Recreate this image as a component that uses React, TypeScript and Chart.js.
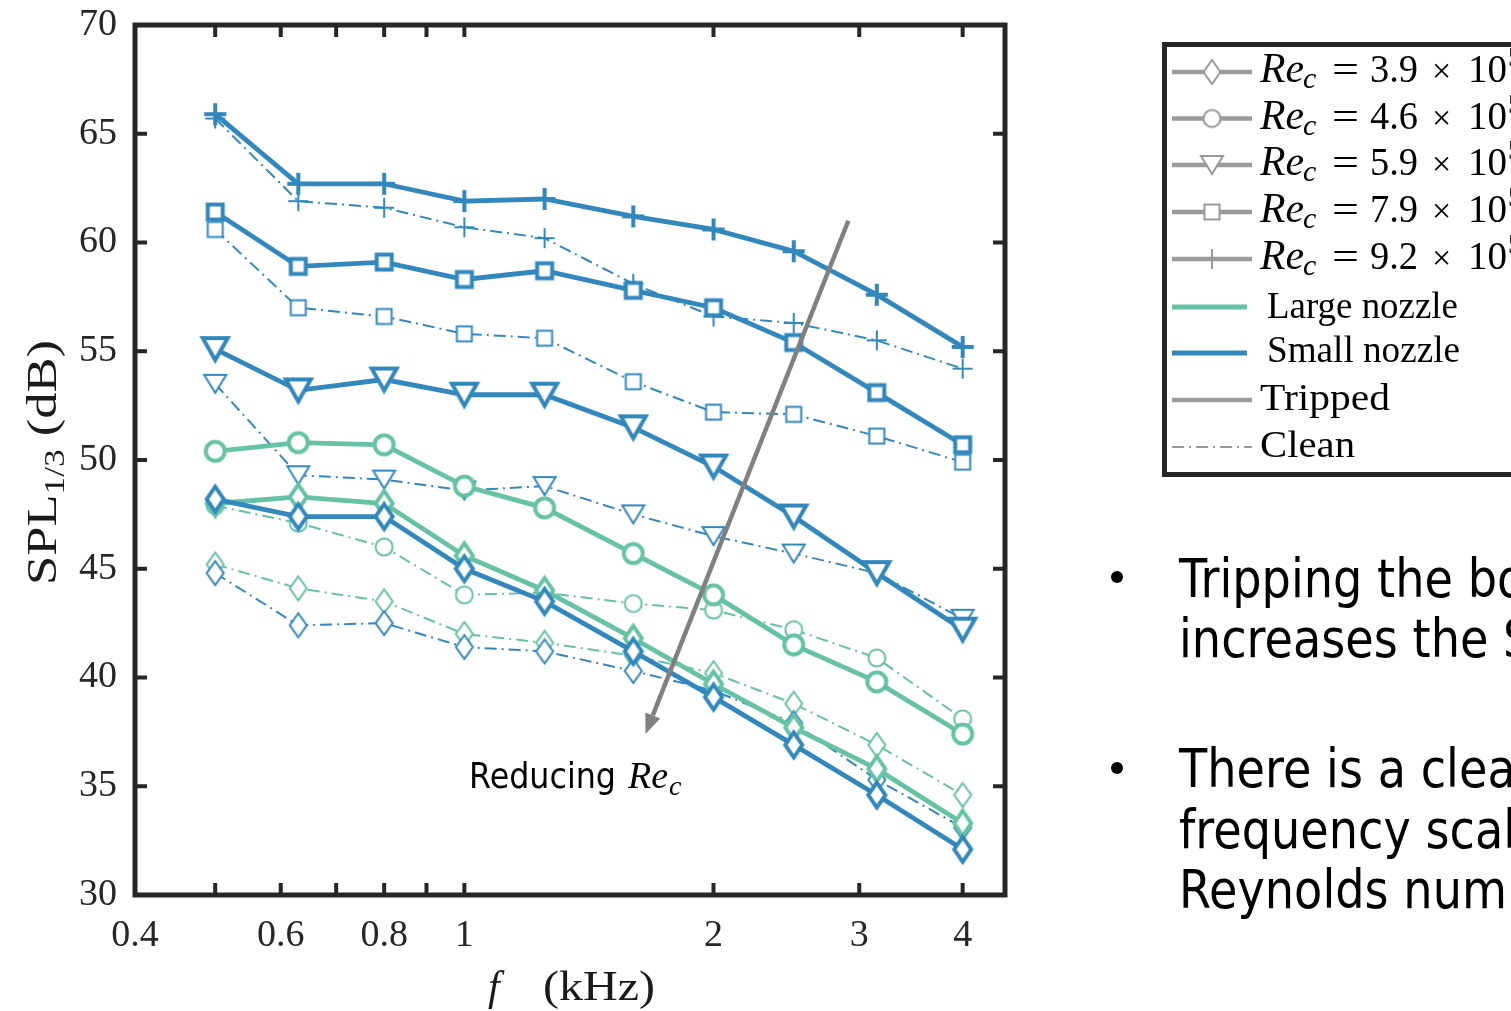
import React, { useEffect, useRef } from "react";
import { Chart, registerables } from "chart.js";

Chart.register(...registerables);

// ---------------- data ----------------
const FREQ_KHZ = [0.5, 0.63, 0.8, 1, 1.25, 1.6, 2, 2.5, 3.15, 4];

const SMALL_TRIPPED_RE92 = [65.9, 62.7, 62.7, 61.9, 62.0, 61.2, 60.6, 59.6, 57.6, 55.2];
const SMALL_TRIPPED_RE79 = [61.4, 58.9, 59.1, 58.3, 58.7, 57.8, 57.0, 55.4, 53.1, 50.7];
const SMALL_TRIPPED_RE59 = [55.1, 53.2, 53.7, 53.0, 53.0, 51.5, 49.7, 47.4, 44.8, 42.2];
const SMALL_TRIPPED_RE39 = [48.2, 47.4, 47.4, 45.0, 43.5, 41.2, 39.1, 36.9, 34.6, 32.1];

const SMALL_CLEAN_RE92 = [65.7, 61.9, 61.6, 60.7, 60.2, 58.1, 56.6, 56.3, 55.5, 54.2];
const SMALL_CLEAN_RE79 = [60.6, 57.0, 56.6, 55.8, 55.6, 53.6, 52.2, 52.1, 51.1, 49.9];
const SMALL_CLEAN_RE59 = [53.5, 49.3, 49.1, 48.6, 48.8, 47.5, 46.5, 45.7, 44.8, 42.7];
const SMALL_CLEAN_RE39 = [44.8, 42.4, 42.5, 41.4, 41.2, 40.3, 39.4, 37.9, 35.3, 33.1];

const LARGE_TRIPPED_RE46 = [50.4, 50.8, 50.7, 48.8, 47.8, 45.7, 43.8, 41.5, 39.8, 37.4];
const LARGE_TRIPPED_RE39 = [48.0, 48.3, 48.0, 45.6, 44.0, 41.8, 39.7, 37.7, 35.8, 33.3];

const LARGE_CLEAN_RE46 = [47.9, 47.1, 46.0, 43.8, 43.9, 43.4, 43.1, 42.2, 40.9, 38.1];
const LARGE_CLEAN_RE39 = [45.2, 44.1, 43.5, 42.0, 41.6, 41.0, 40.2, 38.8, 36.9, 34.6];

const X_TICK_LABELS = [0.4, 0.6, 0.8, 1, 2, 3, 4];
const X_TICK_MARKS = [0.5, 0.6, 0.7, 0.8, 0.9, 1, 2, 3, 4];
const Y_TICKS = [30, 35, 40, 45, 50, 55, 60, 65, 70];

const LEGEND_RE = ["3.9", "4.6", "5.9", "7.9", "9.2"];
const LEGEND_MARKERS = ["diamond", "circle", "tri", "square", "plus"];

const BULLET_1 = ["Tripping the boundary layer", "increases the SPL"];
const BULLET_2 = ["There is a clear", "frequency scaling with", "Reynolds number"];

// arrow annotation in data coordinates (kHz, dB)
const ARROW_FROM = { f: 2.91, spl: 61.0 };
const ARROW_TO = { f: 1.655, spl: 37.4 };

// ---------------- styles ----------------
const BLUE = "#3288bd";
const GREEN = "#66c2a5";
const GRAY = "#9a9a9a";
const AXIS = "#262626";
const SERIF = "'Liberation Serif', 'Times New Roman', serif";
const SANS = "'DejaVu Sans', Verdana, sans-serif";

function makeMarker(kind: string, color: string, thick: boolean): HTMLCanvasElement {
  const S = 40;
  const c = document.createElement("canvas");
  c.width = S;
  c.height = S;
  const g = c.getContext("2d")!;
  g.translate(S / 2, S / 2);
  g.lineWidth = thick ? 4 : 2;
  g.strokeStyle = color;
  g.fillStyle = "#ffffff";
  g.lineJoin = "miter";
  g.beginPath();
  if (kind === "diamond") {
    const a = 8.5, b = thick ? 12.5 : 12;
    g.moveTo(0, -b); g.lineTo(a, 0); g.lineTo(0, b); g.lineTo(-a, 0); g.closePath();
    g.fill(); g.stroke();
  } else if (kind === "circle") {
    g.arc(0, 0, thick ? 9.5 : 8.5, 0, Math.PI * 2);
    g.fill(); g.stroke();
  } else if (kind === "tri") {
    const a = thick ? 12.5 : 11, h = thick ? 11 : 9;
    g.moveTo(-a, -h); g.lineTo(a, -h); g.lineTo(0, h); g.closePath();
    g.fill(); g.stroke();
  } else if (kind === "square") {
    const s = 7.5;
    g.rect(-s, -s, 2 * s, 2 * s);
    g.fill(); g.stroke();
  } else if (kind === "plus") {
    const r = thick ? 11 : 10;
    g.moveTo(-r, 0); g.lineTo(r, 0); g.moveTo(0, -r); g.lineTo(0, r);
    g.stroke();
  }
  return c;
}

function drawFit(ctx: CanvasRenderingContext2D, text: string, font: string, x: number, y: number, width?: number, sx?: number) {
  ctx.font = font;
  const w = ctx.measureText(text).width;
  const s = width ? width / w : sx ?? 1;
  ctx.save();
  ctx.translate(x, y);
  ctx.scale(s, 1);
  ctx.fillText(text, 0, 0);
  ctx.restore();
}

const decorPlugin = {
  id: "decor",
  afterDraw(chart: any) {
    const ctx: CanvasRenderingContext2D = chart.ctx;
    const { left, right, top, bottom } = chart.chartArea;
    const xs = chart.scales.x;
    const ys = chart.scales.y;
    ctx.save();
    ctx.textAlign = "left";
    ctx.textBaseline = "alphabetic";

    // arrow
    const ax1 = xs.getPixelForValue(ARROW_FROM.f), ay1 = ys.getPixelForValue(ARROW_FROM.spl);
    const ax2 = xs.getPixelForValue(ARROW_TO.f), ay2 = ys.getPixelForValue(ARROW_TO.spl);
    const ang = Math.atan2(ay2 - ay1, ax2 - ax1);
    const hl = 20, hw = 8;
    const bx = ax2 - hl * Math.cos(ang), by = ay2 - hl * Math.sin(ang);
    ctx.strokeStyle = "#808080";
    ctx.fillStyle = "#808080";
    ctx.lineWidth = 4.5;
    ctx.beginPath(); ctx.moveTo(ax1, ay1); ctx.lineTo(bx, by); ctx.stroke();
    ctx.beginPath();
    ctx.moveTo(ax2, ay2);
    ctx.lineTo(bx + hw * Math.sin(ang), by - hw * Math.cos(ang));
    ctx.lineTo(bx - hw * Math.sin(ang), by + hw * Math.cos(ang));
    ctx.closePath(); ctx.fill();

    // "Reducing Re_c"
    ctx.fillStyle = "#000";
    drawFit(ctx, "Reducing", `35px ${SANS}`, 469, 788, 147);
    drawFit(ctx, "Re", `italic 38px ${SERIF}`, 628, 788, 40);
    drawFit(ctx, "c", `italic 28px ${SERIF}`, 669, 795);

    // frame + inward ticks
    ctx.strokeStyle = AXIS;
    ctx.lineWidth = 5;
    ctx.strokeRect(left, top, right - left, bottom - top);
    ctx.lineWidth = 4;
    ctx.beginPath();
    for (const v of Y_TICKS) {
      const py = ys.getPixelForValue(v);
      ctx.moveTo(left, py); ctx.lineTo(left + 12, py);
      ctx.moveTo(right, py); ctx.lineTo(right - 12, py);
    }
    for (const v of X_TICK_MARKS) {
      const px = xs.getPixelForValue(v);
      ctx.moveTo(px, bottom); ctx.lineTo(px, bottom - 12);
      ctx.moveTo(px, top); ctx.lineTo(px, top + 12);
    }
    ctx.stroke();

    // axis titles
    ctx.fillStyle = "#1a1a1a";
    drawFit(ctx, "f", `italic 42px ${SERIF}`, 488, 1000);
    drawFit(ctx, "(kHz)", `42px ${SERIF}`, 543, 1000, 112);
    ctx.save();
    ctx.translate(56, 585);
    ctx.rotate(-Math.PI / 2);
    const runs = [
      { t: "SPL", f: `43px ${SERIF}`, dy: 0 },
      { t: "1/3", f: `29px ${SERIF}`, dy: 8 },
      { t: " (dB)", f: `43px ${SERIF}`, dy: 0 },
    ];
    let tot = 0;
    for (const r of runs) { ctx.font = r.f; tot += ctx.measureText(r.t).width; }
    const sc = 245 / tot;
    ctx.scale(sc, 1);
    let cx = 0;
    for (const r of runs) { ctx.font = r.f; ctx.fillText(r.t, cx, r.dy); cx += ctx.measureText(r.t).width; }
    ctx.restore();

    // legend box
    ctx.fillStyle = "#ffffff";
    ctx.fillRect(1164.5, 44.5, 400, 430);
    ctx.strokeStyle = AXIS;
    ctx.lineWidth = 5;
    ctx.strokeRect(1164.5, 44.5, 400, 430);

    const rowY = [72, 118.5, 165, 212, 259];
    for (let i = 0; i < LEGEND_RE.length; i++) {
      const y = rowY[i];
      ctx.strokeStyle = GRAY; ctx.lineWidth = 4.5; ctx.setLineDash([]);
      ctx.beginPath(); ctx.moveTo(1172, y); ctx.lineTo(1252, y); ctx.stroke();
      const m = makeMarker(LEGEND_MARKERS[i], GRAY, false);
      ctx.drawImage(m, 1212 - 20, y - 20);
      ctx.fillStyle = "#000";
      const b = y + 10;
      drawFit(ctx, "Re", `italic 42px ${SERIF}`, 1260, b, 44);
      drawFit(ctx, "c", `italic 30px ${SERIF}`, 1303, b + 6);
      drawFit(ctx, "=", `38px ${SERIF}`, 1332, b, 27);
      drawFit(ctx, LEGEND_RE[i], `39px ${SERIF}`, 1370, b, 48);
      drawFit(ctx, "×", `34px ${SERIF}`, 1432, b);
      drawFit(ctx, "10", `39px ${SERIF}`, 1468, b, 39);
      drawFit(ctx, "5", `27px ${SERIF}`, 1508, b - 16);
    }
    ctx.lineWidth = 5;
    ctx.strokeStyle = GREEN;
    ctx.beginPath(); ctx.moveTo(1172, 307); ctx.lineTo(1247, 307); ctx.stroke();
    ctx.strokeStyle = BLUE;
    ctx.beginPath(); ctx.moveTo(1172, 353); ctx.lineTo(1247, 353); ctx.stroke();
    ctx.strokeStyle = GRAY; ctx.lineWidth = 4.5;
    ctx.beginPath(); ctx.moveTo(1172, 400); ctx.lineTo(1252, 400); ctx.stroke();
    ctx.lineWidth = 2; ctx.setLineDash([12, 5, 2, 5]);
    ctx.beginPath(); ctx.moveTo(1172, 447); ctx.lineTo(1252, 447); ctx.stroke();
    ctx.setLineDash([]);
    ctx.fillStyle = "#000";
    drawFit(ctx, "Large nozzle", `38px ${SERIF}`, 1267, 318, 191);
    drawFit(ctx, "Small nozzle", `38px ${SERIF}`, 1267, 362, 193);
    drawFit(ctx, "Tripped", `38px ${SERIF}`, 1260, 410, 130);
    drawFit(ctx, "Clean", `38px ${SERIF}`, 1260, 457, 95);

    // bullet text
    ctx.font = `54px ${SANS}`;
    const bsx = 318 / ctx.measureText("Tripping the b").width;
    ctx.fillStyle = "#000";
    const b1y = [597, 657];
    const b2y = [787, 848, 908];
    BULLET_1.forEach((t, i) => drawFit(ctx, t, `54px ${SANS}`, 1179, b1y[i], undefined, bsx));
    BULLET_2.forEach((t, i) => drawFit(ctx, t, `54px ${SANS}`, 1179, b2y[i], undefined, bsx));
    ctx.beginPath(); ctx.arc(1117, 577, 6, 0, Math.PI * 2); ctx.fill();
    ctx.beginPath(); ctx.arc(1117, 768, 6, 0, Math.PI * 2); ctx.fill();

    ctx.restore();
  },
};

export default function App() {
  const ref = useRef<HTMLCanvasElement>(null);

  useEffect(() => {
    const canvas = ref.current!;
    const mk = (label: string, data: number[], color: string, tripped: boolean, marker: string) => ({
      label,
      data: FREQ_KHZ.map((f, i) => ({ x: f, y: data[i] })),
      borderColor: color,
      backgroundColor: color,
      borderWidth: tripped ? 4.8 : 2,
      borderDash: tripped ? [] : [12, 5, 2, 5],
      pointStyle: makeMarker(marker, color, tripped),
      pointRadius: 10,
      pointHoverRadius: 10,
      tension: 0,
      fill: false,
    });

    const datasets = [
      mk("Small tripped Re 3.9", SMALL_TRIPPED_RE39, BLUE, true, "diamond"),
      mk("Large tripped Re 3.9", LARGE_TRIPPED_RE39, GREEN, true, "diamond"),
      mk("Large tripped Re 4.6", LARGE_TRIPPED_RE46, GREEN, true, "circle"),
      mk("Small tripped Re 5.9", SMALL_TRIPPED_RE59, BLUE, true, "tri"),
      mk("Small tripped Re 7.9", SMALL_TRIPPED_RE79, BLUE, true, "square"),
      mk("Small tripped Re 9.2", SMALL_TRIPPED_RE92, BLUE, true, "plus"),
      mk("Small clean Re 3.9", SMALL_CLEAN_RE39, BLUE, false, "diamond"),
      mk("Large clean Re 3.9", LARGE_CLEAN_RE39, GREEN, false, "diamond"),
      mk("Large clean Re 4.6", LARGE_CLEAN_RE46, GREEN, false, "circle"),
      mk("Small clean Re 5.9", SMALL_CLEAN_RE59, BLUE, false, "tri"),
      mk("Small clean Re 7.9", SMALL_CLEAN_RE79, BLUE, false, "square"),
      mk("Small clean Re 9.2", SMALL_CLEAN_RE92, BLUE, false, "plus"),
    ];

    const chart = new Chart(canvas, {
      type: "line",
      data: { datasets: datasets as any },
      options: {
        animation: false,
        responsive: false,
        devicePixelRatio: 1,
        events: [],
        layout: { padding: { left: 0, top: 25, right: 506, bottom: 0 } },
        plugins: { legend: { display: false }, tooltip: { enabled: false } },
        scales: {
          x: {
            type: "logarithmic",
            min: 0.4,
            max: 4.5,
            afterBuildTicks: (s: any) => {
              s.ticks = X_TICK_LABELS.map((v) => ({ value: v }));
            },
            afterFit: (s: any) => {
              s.height = 116;
              s.paddingLeft = 0;
              s.paddingRight = 0;
            },
            ticks: {
              autoSkip: false,
              maxRotation: 0,
              minRotation: 0,
              padding: 18,
              color: AXIS,
              font: { family: SERIF, size: 38 },
              callback: (v: any) => String(v),
            },
            grid: { display: false, drawTicks: false },
            border: { display: false },
          },
          y: {
            type: "linear",
            min: 30,
            max: 70,
            afterBuildTicks: (s: any) => {
              s.ticks = Y_TICKS.map((v) => ({ value: v }));
            },
            afterFit: (s: any) => {
              s.width = 135;
              s.paddingTop = 0;
              s.paddingBottom = 0;
            },
            ticks: {
              padding: 18,
              color: AXIS,
              font: { family: SERIF, size: 38 },
              callback: (v: any) => String(v),
            },
            grid: { display: false, drawTicks: false },
            border: { display: false },
          },
        },
      } as any,
      plugins: [decorPlugin],
    });
    return () => chart.destroy();
  }, []);

  return (
    <div style={{ position: "fixed", left: 0, top: 0, width: 1511, height: 1011, background: "#fff" }}>
      <canvas ref={ref} width={1511} height={1011} style={{ display: "block", width: 1511, height: 1011 }} />
    </div>
  );
}
